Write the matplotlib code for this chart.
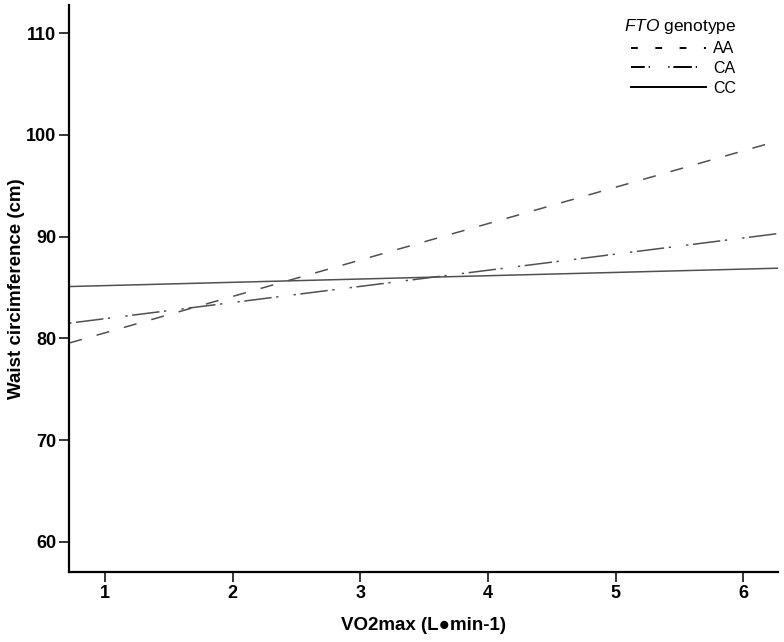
import numpy as np
import matplotlib.pyplot as plt

plt.rcParams['font.family'] = ['Liberation Sans', 'DejaVu Sans']
plt.rcParams['mathtext.fontset'] = 'custom'
plt.rcParams['mathtext.it'] = 'Liberation Sans:italic'
plt.rcParams['mathtext.rm'] = 'Liberation Sans'

# Fitted lines per genotype (VO2max range ends -> waist circumference)
vo2_range = [0.72, 6.27]
genotypes = ['AA', 'CA', 'CC']
waist_start = [79.55, 81.5, 85.1]
waist_end = [99.4, 90.3, 86.9]

styles = {
    'AA': (0, (8.6, 10.0)),
    'CA': (0, (1.5, 3.0, 18.0, 3.0, 1.5, 10.0)),
    'CC': '-',
}
# legend handles use shorter dashes
leg_styles = {
    'AA': (0, (3.5, 9.0)),
    'CA': (5.0, (0.6, 2.0, 9.5, 2.0, 0.6, 9.5)),
    'CC': '-',
}

fig = plt.figure(figsize=(7.84, 6.42), dpi=100)
ax = fig.add_axes([0.088, 0.109, 0.904, 0.883])

for g, y0, y1 in zip(genotypes, waist_start, waist_end):
    ax.plot(vo2_range, [y0, y1], color='#505050', lw=1.1, linestyle=styles[g])

handles = [plt.Line2D([], [], color='black', lw=1.4, linestyle=leg_styles[g]) for g in genotypes]
leg = ax.legend(handles, genotypes, title=r'$\it{FTO}$ genotype', loc='upper right',
                bbox_to_anchor=(0.957, 0.998), frameon=False, fontsize=11.5,
                title_fontsize=12.5, handlelength=4.7, handletextpad=0.45,
                labelspacing=0.3, alignment='right', borderaxespad=0.3)

ax.set_xlim(0.718, 6.27)
ax.set_ylim(57.05, 112.75)
ax.set_xticks([1, 2, 3, 4, 5, 6])
ax.set_yticks([60, 70, 80, 90, 100, 110])

for side in ['top', 'right']:
    ax.spines[side].set_visible(False)
for side in ['left', 'bottom']:
    ax.spines[side].set_linewidth(1.6)

ax.tick_params(direction='out', length=7, width=1.1, labelsize=13, pad=2)
for lab in ax.get_xticklabels() + ax.get_yticklabels():
    lab.set_fontweight('bold')

ax.set_xlabel('VO2max (L\u25cfmin-1)', fontsize=13.5, fontweight='bold', labelpad=11)
ax.set_ylabel('Waist circimference (cm)', fontsize=13.5, fontweight='bold', labelpad=1)

fig.savefig('out.png', dpi=100)
